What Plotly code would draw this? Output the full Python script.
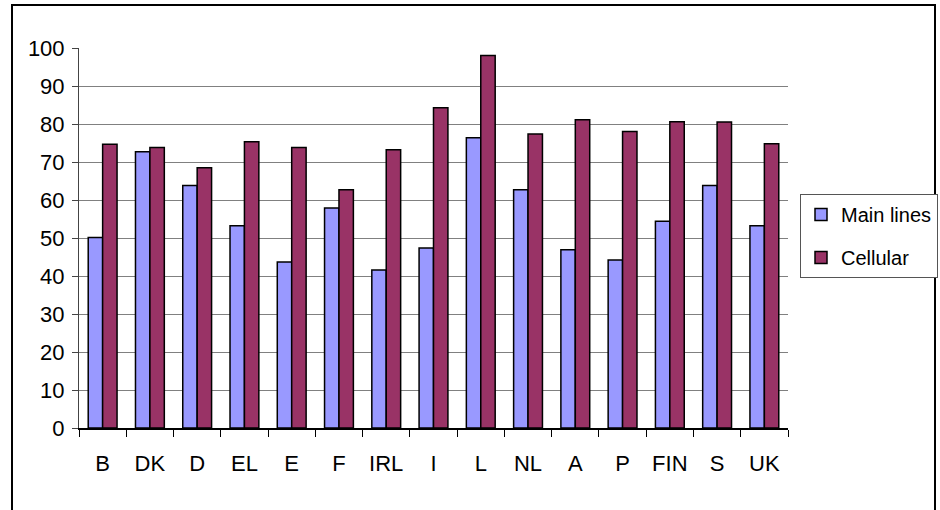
import plotly.graph_objects as go

categories = ["B", "DK", "D", "EL", "E", "F", "IRL", "I", "L", "NL", "A", "P", "FIN", "S", "UK"]
main_lines = [50.1, 72.7, 63.8, 53.2, 43.7, 57.9, 41.6, 47.4, 76.4, 62.7, 46.9, 44.2, 54.4, 63.8, 53.2]
cellular = [74.7, 73.8, 68.5, 75.3, 73.8, 62.7, 73.2, 84.3, 98.0, 77.4, 81.1, 78.0, 80.6, 80.5, 74.8]
y_ticks = [0, 10, 20, 30, 40, 50, 60, 70, 80, 90, 100]

FONT = "Liberation Sans, Arial, sans-serif"

fig = go.Figure()
fig.add_trace(go.Bar(x=categories, y=main_lines, name="Main lines", legendgroup="a",
                     marker=dict(color="#9999FF", line=dict(color="black", width=1.5))))
fig.add_trace(go.Bar(x=categories, y=cellular, name="Cellular", legendgroup="b",
                     marker=dict(color="#993366", line=dict(color="black", width=1.5))))

L, R, T, B = 79, 152, 48, 82
W, H = 940, 510
pw, ph = W - L - R, H - T - B

def px_x(p):
    return (p - L) / pw

def px_y(p):
    return (H - B - p) / ph

fig.update_layout(
    width=W, height=H,
    margin=dict(l=L, r=R, t=T, b=B, pad=0, autoexpand=False),
    paper_bgcolor="white", plot_bgcolor="white",
    font=dict(family=FONT, size=22, color="black"),
    barmode="group", bargap=0.39, bargroupgap=0,
    showlegend=True,
    legend=dict(x=px_x(800), y=px_y(194), xanchor="left", yanchor="top",
                bordercolor="#555555", borderwidth=1, bgcolor="white",
                font=dict(family=FONT, size=20, color="black"),
                tracegroupgap=14, traceorder="grouped",
                itemwidth=30),
    xaxis=dict(showline=True, linecolor="black", linewidth=1.5, tickangle=0,
               ticks="outside", tickson="boundaries", ticklen=7, tickcolor="black",
               showgrid=False, ticklabelstandoff=15),
    yaxis=dict(range=[0, 100], tickvals=y_ticks, showline=True, linecolor="#444444",
               linewidth=1, ticks="outside", ticklen=6, tickcolor="#444444",
               showgrid=True, gridcolor="#808080", gridwidth=1, zeroline=False,
               ticklabelstandoff=3),
    shapes=[dict(type="rect", xref="paper", yref="paper",
                 x0=px_x(12), x1=px_x(935), y0=px_y(520), y1=px_y(5),
                 line=dict(color="black", width=2), fillcolor="rgba(0,0,0,0)",
                 layer="below")],
)

fig.write_html("out.html", config={"displayModeBar": False},
               post_script="document.body.style.margin='0';")
